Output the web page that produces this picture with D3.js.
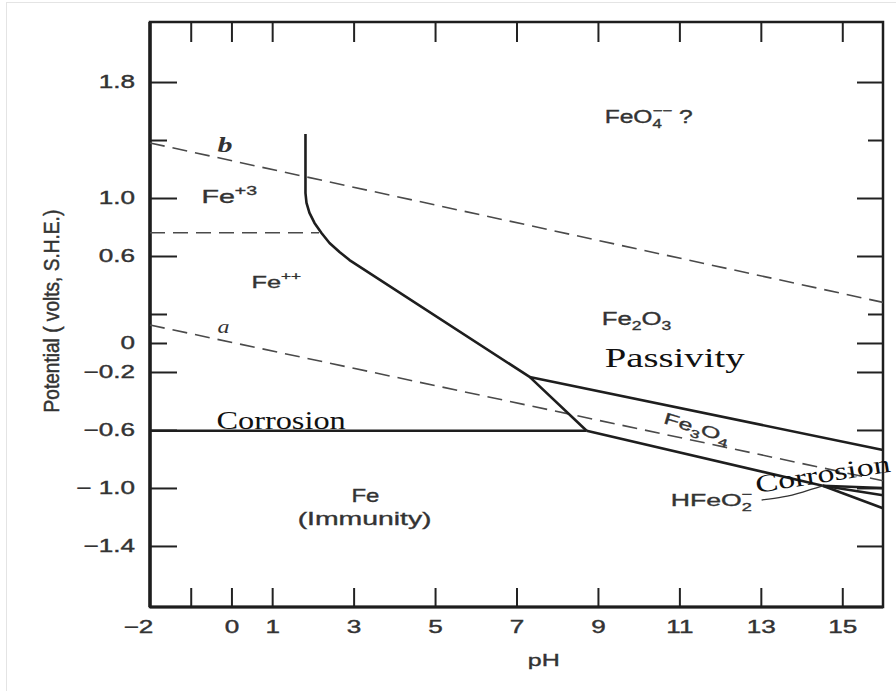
<!DOCTYPE html>
<html lang="en">
  <head>
    <meta charset="UTF-8">
    <title>Pourbaix diagram for iron</title>
    <style>
      body {
        margin: 0;
        background: #fff;
      }
      svg {
        display: block;
      }
    </style>
  </head>
  <body>
    <div id="chart"></div>

    <script src="https://d3js.org/d3.v7.min.js"></script>
    <script>
      // tick values and labels
      const phTicks = [-1, 0, 1, 3, 5, 7, 9, 11, 13, 15];
      const phLabelValues = [-2, 0, 1, 3, 5, 7, 9, 11, 13, 15];
      const phLabelText = ['−2', '0', '1', '3', '5', '7', '9', '11', '13', '15'];
      const eLongTicks = [1.8, 1.0, 0.6, -0.2, -0.6, -1.0, -1.4];
      const eShortTicks = [1.4, 0.2, 0];
      const eLabelValues = [1.8, 1.0, 0.6, 0, -0.2, -0.6, -1.0, -1.4];
      const eLabelText = ['1.8', '1.0', '0.6', '0', '−0.2', '−0.6', '− 1.0', '−1.4'];

      // boundaries, [pH, potential]
      const lineB = [[-2, 1.38], [16, 0.28]];
      const lineA = [[-2, 0.124], [16, -0.95]];
      const fe3Fe2 = [[-2, 0.76], [2.15, 0.76]];
      const fe2Fe2o3 = [
        [1.818, 1.441], [1.818, 1.034], [1.843, 0.966], [1.916, 0.897],
        [2.039, 0.828], [2.211, 0.759], [2.408, 0.690], [2.654, 0.628],
        [2.899, 0.572], [7.322, -0.234], [8.722, -0.605]
      ];
      const feFe2 = [[-2, -0.605], [8.722, -0.605]];
      const fe2o3Fe3o4 = [[7.322, -0.234], [16, -0.738]];
      const fe3o4Fe = [[8.722, -0.605], [14.52, -0.985]];
      const fanUpper = [[14.52, -0.985], [16, -1.0]];
      const fanMiddle = [[14.52, -0.985], [16, -1.05]];
      const fanLower = [[14.52, -0.985], [16, -1.14]];
      const hfeo2Leader = [[13.02, -1.083], [13.54, -1.062], [14.03, -1.028], [14.52, -0.986]];

      const sans = '"Liberation Sans", Arial, Helvetica, sans-serif';
      const serif = '"Liberation Serif", "Times New Roman", serif';

      // annotations: anchor in pH / potential, target width in px
      const labels = [
        { ph: -0.737, e: 0.966, size: 18, w: 56, parts: [['Fe'], ['+3', 'sup']] },
        { ph: 0.491, e: 0.379, size: 17, w: 50, parts: [['Fe'], ['++', 'sup']] },
        { ph: 9.165, e: 1.517, size: 18, w: 88, parts: [['FeO'], ['4', 'sub'], ['−−', 'sup', true], [' ?']] },
        { ph: 9.091, e: 0.124, size: 18, w: 70, parts: [['Fe'], ['2', 'sub'], ['O'], ['3', 'sub']] },
        { ph: 10.59, e: -0.552, size: 16, w: 68, rotate: 17, parts: [['Fe'], ['3', 'sub'], ['O'], ['4', 'sub']] },
        { ph: 10.79, e: -1.124, size: 17, w: 82, parts: [['HFeO'], ['2', 'sub'], ['−', 'sup', true]] },
        { ph: 3.29, e: -1.097, size: 18, w: 28, anchor: 'middle', parts: [['Fe']] },
        { ph: 3.27, e: -1.255, size: 18, w: 134, anchor: 'middle', parts: [['(Immunity)']] },
        { ph: -0.344, e: 1.317, size: 20, w: 15, family: serif, italic: true, bold: true, parts: [['b']] },
        { ph: -0.344, e: 0.069, size: 18, w: 12, family: serif, italic: true, parts: [['a']] },
        { ph: -0.369, e: -0.593, size: 25, w: 130, family: serif, color: '#111', parts: [['Corrosion']] },
        { ph: 9.165, e: -0.166, size: 28, w: 140, family: serif, color: '#111', parts: [['Passivity']] },
        { ph: 12.9, e: -1.034, size: 25, w: 137, rotate: -9, family: serif, color: '#111', parts: [['Corrosion']] },
        { ph: 7.67, e: -2.23, size: 17, w: 32, anchor: 'middle', parts: [['pH']] },
        { ph: -4.24, e: 0.22, size: 16, w: 203, sy: 1.35, rotate: -90, anchor: 'middle', parts: [['Potential ( volts, S.H.E.)']] }
      ];

      const width = 896;
      const height = 691;

      const x = d3.scaleLinear().domain([-2, 16]).range([150, 883]);
      const y = d3.scaleLinear().domain([-1.821, 2.214]).range([607, 22]);

      const svg = d3.select('#chart').append('svg')
        .attr('width', width)
        .attr('height', height);

      svg.append('rect')
        .attr('x', 6.5).attr('y', 2.5)
        .attr('width', width).attr('height', height)
        .attr('fill', 'none')
        .attr('stroke', '#e4e4e4');

      const tickScale = 1.45;

      const styleAxis = (g) => {
        g.select('.domain').remove();
        g.selectAll('line').attr('stroke', '#222').attr('stroke-width', 2);
        g.selectAll('text')
          .attr('font-family', sans)
          .attr('font-size', 18)
          .attr('fill', '#333')
          .attr('stroke', '#333')
          .attr('stroke-width', 0.4);
      };

      // left
      svg.append('g').attr('transform', 'translate(150,0)')
        .call(d3.axisLeft(y).tickValues(eLongTicks).tickSize(-27).tickFormat(''))
        .call(styleAxis);
      svg.append('g').attr('transform', 'translate(150,0)')
        .call(d3.axisLeft(y).tickValues(eShortTicks).tickSize(-17).tickFormat(''))
        .call(styleAxis);
      svg.append('g').attr('transform', 'translate(150,0)')
        .call(d3.axisLeft(y).tickValues(eLabelValues).tickSize(0).tickPadding(15)
          .tickFormat((d, i) => eLabelText[i]))
        .call(styleAxis)
        .selectAll('text')
        .attr('x', -15 / tickScale)
        .attr('transform', `scale(${tickScale},1)`);

      // right
      svg.append('g').attr('transform', 'translate(883,0)')
        .call(d3.axisRight(y).tickValues(eLabelValues).tickSize(-26).tickFormat(''))
        .call(styleAxis);
      svg.append('g').attr('transform', 'translate(883,0)')
        .call(d3.axisRight(y).tickValues([1.4, 0.2]).tickSize(-15).tickFormat(''))
        .call(styleAxis);

      // top
      svg.append('g').attr('transform', 'translate(0,22)')
        .call(d3.axisTop(x).tickValues(phTicks).tickSize(-20).tickFormat(''))
        .call(styleAxis);

      // bottom
      svg.append('g').attr('transform', 'translate(0,607)')
        .call(d3.axisBottom(x).tickValues(phTicks).tickSize(-19).tickFormat(''))
        .call(styleAxis);
      svg.append('g').attr('transform', 'translate(0,607)')
        .call(d3.axisBottom(x).tickValues(phLabelValues).tickSize(0).tickPadding(13)
          .tickFormat((d, i) => phLabelText[i]))
        .call(styleAxis)
        .selectAll('text')
        .attr('x', d => d < 0 ? -12 / tickScale : 0)
        .attr('transform', `scale(${tickScale},1)`);

      // frame
      const frame = svg.append('g').attr('stroke', '#1e1e1e').attr('fill', 'none');
      frame.append('rect')
        .attr('x', x(-2)).attr('y', y(2.214))
        .attr('width', x(16) - x(-2)).attr('height', y(-1.821) - y(2.214))
        .attr('stroke-width', 2.5);
      frame.append('line')
        .attr('x1', x(-2)).attr('x2', x(-2))
        .attr('y1', y(2.214)).attr('y2', y(-1.821))
        .attr('stroke-width', 3.5);
      frame.append('line')
        .attr('x1', x(-2)).attr('x2', x(16))
        .attr('y1', y(-1.821)).attr('y2', y(-1.821))
        .attr('stroke-width', 3);

      const line = d3.line().x(d => x(d[0])).y(d => y(d[1]));

      const dashed = svg.append('g')
        .attr('fill', 'none')
        .attr('stroke', '#4a4a4a')
        .attr('stroke-width', 1.6)
        .attr('stroke-dasharray', '15,8');
      [lineB, lineA, fe3Fe2].forEach(d => dashed.append('path').attr('d', line(d)));

      const solid = svg.append('g')
        .attr('fill', 'none')
        .attr('stroke', '#1e1e1e')
        .attr('stroke-width', 2.6)
        .attr('stroke-linejoin', 'round');
      [fe2Fe2o3, feFe2, fe2o3Fe3o4, fe3o4Fe, fanUpper, fanMiddle, fanLower]
        .forEach(d => solid.append('path').attr('d', line(d)));

      svg.append('path')
        .attr('d', line.curve(d3.curveNatural)(hfeo2Leader))
        .attr('fill', 'none')
        .attr('stroke', '#333')
        .attr('stroke-width', 1.3);

      // labels
      const offsets = { n: 0, sub: 0.3, sup: -0.45 };
      labels.forEach(d => {
        const color = d.color || '#333';
        const t = svg.append('text')
          .attr('font-family', d.family || sans)
          .attr('font-size', d.size)
          .attr('font-style', d.italic ? 'italic' : null)
          .attr('font-weight', d.bold ? 'bold' : null)
          .attr('fill', color)
          .attr('stroke', d.family ? null : color)
          .attr('stroke-width', d.family ? null : 0.35)
          .attr('text-anchor', d.anchor || 'start');
        let prev = 0;
        let last = null;
        d.parts.forEach(p => {
          const kind = p[1] || 'n';
          const off = offsets[kind] * d.size;
          const ts = t.append('tspan').text(p[0]).attr('dy', off - prev);
          if (kind !== 'n') ts.attr('font-size', d.size * 0.68);
          if (p[2] && last) ts.attr('dx', -last.node().getComputedTextLength());
          prev = off;
          last = ts;
        });
        const box = t.node().getBBox();
        const sx = d.w / box.width;
        t.attr('transform',
          `translate(${x(d.ph)},${y(d.e)}) rotate(${d.rotate || 0}) scale(${sx},${d.sy || 1})`);
      });
    </script>
  </body>
</html>
